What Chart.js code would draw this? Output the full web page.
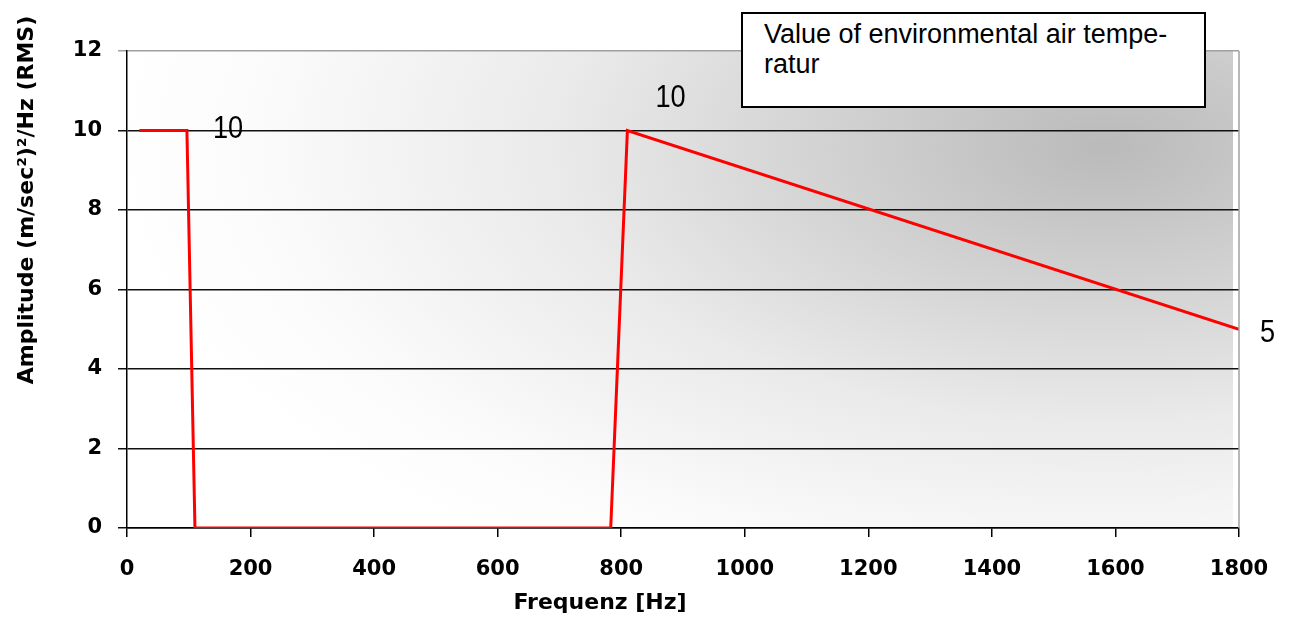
<!DOCTYPE html>
<html>
<head>
<meta charset="utf-8">
<script src="https://cdn.jsdelivr.net/npm/chart.js@4"></script>
<style>
  html, body { margin: 0; padding: 0; background: #fff; }
  #wrap { position: relative; width: 1293px; height: 617px; }
  #note {
    position: absolute; left: 741px; top: 12px; width: 440px; height: 87px;
    border: 2px solid #000; background: #fff; padding: 5px 0 0 21px;
    font-family: "Liberation Sans", Arial, sans-serif; font-size: 27px; line-height: 30px; color: #000;
  }
</style>
</head>
<body>
<div id="wrap">
  <canvas id="myChart" width="1293" height="617"></canvas>
  <div id="note">Value of environmental air tempe-<br>ratur</div>
</div>
<script>
const frequenz = [20, 97, 110, 783, 810, 1800];
const amplitude = [10, 10, 0, 0, 10, 5];
const xTicks = [0, 200, 400, 600, 800, 1000, 1200, 1400, 1600, 1800];
const yTicks = [0, 2, 4, 6, 8, 10, 12];
const labelledPoints = [1, 4, 5];

const tickFont = { family: "DejaVu Sans", size: 21, weight: "bold" };

// grey shading of the plot area, darkest towards the upper right
const shade = {
  id: "shade",
  beforeDraw(chart) {
    const a = chart.chartArea;
    const ctx = chart.ctx;
    const w = a.right - a.left, h = a.bottom - a.top;
    ctx.save();
    ctx.beginPath();
    ctx.rect(a.left, a.top, w - 6, h);
    ctx.clip();
    ctx.fillStyle = "#fff";
    ctx.fillRect(a.left, a.top, w, h);
    ctx.translate(a.right - 0.12 * w, a.top + 0.2 * h);
    ctx.scale(0.9 * w, 1.05 * h);
    const g = ctx.createRadialGradient(0, 0, 0, 0, 0, 1);
    g.addColorStop(0, "#bababa");
    g.addColorStop(0.3, "#d4d4d4");
    g.addColorStop(0.55, "#eaeaea");
    g.addColorStop(0.85, "#fbfbfb");
    g.addColorStop(1, "#ffffff");
    ctx.fillStyle = g;
    ctx.fillRect(-2, -2, 4, 4);
    ctx.restore();
  },
  afterDraw(chart) {
    const a = chart.chartArea;
    const ctx = chart.ctx;
    const xs = chart.scales.x, ys = chart.scales.y;
    ctx.save();
    // right border
    ctx.strokeStyle = "#a0a0a0";
    ctx.lineWidth = 1.5;
    ctx.beginPath();
    ctx.moveTo(a.right, a.top);
    ctx.lineTo(a.right, a.bottom);
    ctx.stroke();
    // data labels
    ctx.fillStyle = "#000";
    ctx.font = '32px "Liberation Sans", Arial, sans-serif';
    ctx.textBaseline = "middle";
    const offs = [[26, -1], [28, -32], [21, 4]];
    labelledPoints.forEach((i, k) => {
      const px = xs.getPixelForValue(frequenz[i]);
      const py = ys.getPixelForValue(amplitude[i]);
      ctx.save();
      ctx.translate(px + offs[k][0], py + offs[k][1]);
      ctx.scale(0.85, 1);
      ctx.fillText(String(amplitude[i]), 0, 0);
      ctx.restore();
    });
    // axis titles
    ctx.font = 'bold 22px "DejaVu Sans", sans-serif';
    ctx.textAlign = "center";
    ctx.fillText("Frequenz [Hz]", 600, 603);
    ctx.translate(27, 200);
    ctx.rotate(-Math.PI / 2);
    ctx.fillText("Amplitude (m/sec\u00b2)\u00b2/Hz (RMS)", 0, 0);
    ctx.restore();
  },
};

const ctx = document.getElementById("myChart").getContext("2d");
new Chart(ctx, {
  type: "scatter",
  data: {
    datasets: [
      {
        data: frequenz.map((f, i) => ({ x: f, y: amplitude[i] })),
        showLine: true,
        borderColor: "#ff0000",
        borderWidth: 3,
        pointRadius: 0,
        tension: 0,
      },
    ],
  },
  options: {
    responsive: false,
    animation: false,
    layout: { padding: { left: 0, top: 51, right: 54, bottom: 0 } },
    plugins: {
      legend: { display: false },
      tooltip: { enabled: false },
    },
    scales: {
      x: {
        type: "linear",
        min: 0,
        max: 1800,
        afterBuildTicks: (s) => { s.ticks = xTicks.map((v) => ({ value: v })); },
        afterFit: (s) => { s.height = 89; },
        grid: {
          drawOnChartArea: false,
          drawTicks: true,
          tickLength: 9,
          color: "#000",
          lineWidth: 1.5,
        },
        border: { color: "#000", width: 1.5 },
        ticks: {
          color: "#000",
          font: tickFont,
          padding: 20,
          maxRotation: 0,
          callback: (v) => String(v),
        },
      },
      y: {
        min: 0,
        max: 12,
        afterBuildTicks: (s) => { s.ticks = yTicks.map((v) => ({ value: v })); },
        afterFit: (s) => { s.width = 127; },
        grid: {
          color: (c) => (c.tick && c.tick.value === 12 ? "#a0a0a0" : "#111"),
          lineWidth: 1.5,
          tickLength: 9,
        },
        border: { color: "#000", width: 1.5 },
        ticks: { color: "#000", font: tickFont, padding: 16, callback: (v) => String(v) },
      },
    },
  },
  plugins: [shade],
});
</script>
</body>
</html>
